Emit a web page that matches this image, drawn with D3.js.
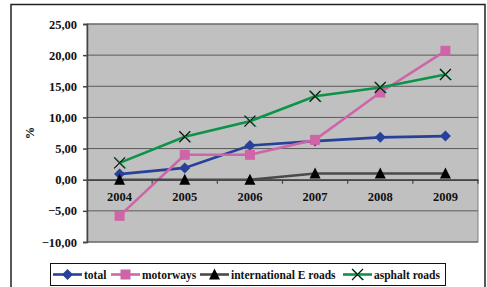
<!DOCTYPE html>
<html>
<head>
<meta charset="utf-8">
<script src="https://cdn.jsdelivr.net/npm/d3@7"></script>
<style>
  body { margin: 0; background: #fff; }
  text { font-family: "Liberation Serif", "Times New Roman", serif; font-weight: bold; }
</style>
</head>
<body>
<div id="chart"></div>
<script>
// data
var years = ["2004", "2005", "2006", "2007", "2008", "2009"];
var total = [0.9, 1.9, 5.5, 6.2, 6.8, 7.0];
var motorways = [-5.8, 4.0, 4.0, 6.4, 14.0, 20.7];
var intlRoads = [0.0, 0.0, 0.0, 1.0, 1.0, 1.0];
var asphalt = [2.7, 6.9, 9.4, 13.4, 14.8, 16.9];
var yTicks = [-10, -5, 0, 5, 10, 15, 20, 25];

var seriesList = [
  {name: "total", values: total, color: "#27409a", marker: "diamond"},
  {name: "motorways", values: motorways, color: "#cf64a8", marker: "square"},
  {name: "international E roads", values: intlRoads, color: "#4a4a4a", marker: "triangle"},
  {name: "asphalt roads", values: asphalt, color: "#0b9447", marker: "cross"}
];

var W = 487, H = 287;
var plot = {left: 87, top: 24, right: 478, bottom: 242};

var svg = d3.select("#chart").append("svg")
  .attr("width", W)
  .attr("height", H);

// outer frame
svg.append("rect")
  .attr("x", 11).attr("y", 4.5)
  .attr("width", 474).attr("height", 300)
  .attr("fill", "#fff")
  .attr("stroke", "#222")
  .attr("stroke-width", 1.5);

var x = d3.scaleBand()
  .domain(years)
  .range([plot.left, plot.right]);

var y = d3.scaleLinear()
  .domain([-10, 25])
  .range([plot.bottom, plot.top]);

// plot background
svg.append("rect")
  .attr("x", plot.left).attr("y", plot.top)
  .attr("width", plot.right - plot.left)
  .attr("height", plot.bottom - plot.top)
  .attr("fill", "#c0c0c0")
  .attr("stroke", "#808080")
  .attr("stroke-width", 1);

// gridlines
svg.append("g")
  .selectAll("line")
  .data(yTicks)
  .enter()
  .append("line")
  .attr("x1", plot.left).attr("x2", plot.right)
  .attr("y1", d => y(d)).attr("y2", d => y(d))
  .attr("stroke", "#5a5a5a")
  .attr("stroke-width", 1);

// y axis
var yAxis = svg.append("g")
  .attr("transform", "translate(" + plot.left + ",0)")
  .call(d3.axisLeft(y).tickValues(yTicks).tickSize(4).tickPadding(6)
    .tickFormat(d => d3.format(".2f")(d).replace(".", ",")));
yAxis.select(".domain").attr("stroke", "#444").attr("stroke-width", 1.5);
yAxis.selectAll(".tick line").attr("stroke", "#444").attr("stroke-width", 1.5);
yAxis.selectAll("text")
  .attr("font-size", 12.5)
  .attr("fill", "#111")
  .style("font-family", "Liberation Serif")
  .style("font-weight", "bold");

// x axis on the zero line
var xAxis = svg.append("g")
  .attr("transform", "translate(0," + y(0) + ")")
  .call(d3.axisBottom(x).tickSize(0).tickPadding(12));
xAxis.select(".domain").attr("stroke", "#444").attr("stroke-width", 1.5);
xAxis.selectAll("text")
  .attr("font-size", 12.5)
  .attr("fill", "#111")
  .style("font-family", "Liberation Serif")
  .style("font-weight", "bold");
xAxis.selectAll(".bound")
  .data(d3.range(1, years.length + 1))
  .enter()
  .append("line")
  .attr("x1", d => plot.left + d * x.bandwidth())
  .attr("x2", d => plot.left + d * x.bandwidth())
  .attr("y1", 0).attr("y2", 4)
  .attr("stroke", "#444")
  .attr("stroke-width", 1.2);

// y label
svg.append("text")
  .attr("transform", "translate(34," + 133 + ")rotate(-90)")
  .attr("text-anchor", "middle")
  .attr("font-size", 12.5)
  .attr("fill", "#111")
  .text("%");

function drawMarker(g, kind, color, cx, cy) {
  if (kind == "diamond") {
    g.append("path")
      .attr("d", "M" + cx + "," + (cy - 5.5) + "L" + (cx + 5.5) + "," + cy + "L" + cx + "," + (cy + 5.5) + "L" + (cx - 5.5) + "," + cy + "Z")
      .attr("fill", color);
  } else if (kind == "square") {
    g.append("rect")
      .attr("x", cx - 5).attr("y", cy - 5)
      .attr("width", 10).attr("height", 10)
      .attr("fill", color);
  } else if (kind == "triangle") {
    g.append("path")
      .attr("d", "M" + cx + "," + (cy - 6) + "L" + (cx + 5.5) + "," + (cy + 5) + "L" + (cx - 5.5) + "," + (cy + 5) + "Z")
      .attr("fill", "#000");
  } else if (kind == "cross") {
    var s = 5.5;
    g.append("path")
      .attr("d", "M" + (cx - s) + "," + (cy - s) + "L" + (cx + s) + "," + (cy + s) + "M" + (cx - s) + "," + (cy + s) + "L" + (cx + s) + "," + (cy - s))
      .attr("stroke", "#111")
      .attr("stroke-width", 1.2)
      .attr("fill", "none");
    g.append("path")
      .attr("d", "M" + (cx - s + 1) + "," + (cy - s) + "L" + (cx + s + 1) + "," + (cy + s))
      .attr("stroke", color)
      .attr("stroke-width", 0.8)
      .attr("fill", "none");
  }
}

var line = d3.line()
  .x((d, i) => x(years[i]) + x.bandwidth() / 2)
  .y(d => y(d));

seriesList.forEach(function(s) {
  var g = svg.append("g");
  g.append("path")
    .datum(s.values)
    .attr("d", line)
    .attr("fill", "none")
    .attr("stroke", s.color)
    .attr("stroke-width", 2.6);
  s.values.forEach(function(v, i) {
    drawMarker(g, s.marker, s.color, x(years[i]) + x.bandwidth() / 2, y(v));
  });
});

// legend
var legend = svg.append("g");
legend.append("rect")
  .attr("x", 50.5).attr("y", 263.5)
  .attr("width", 395).attr("height", 22)
  .attr("fill", "#fff")
  .attr("stroke", "#111")
  .attr("stroke-width", 1);

var legendX = [53, 111, 200, 343];
seriesList.forEach(function(s, i) {
  var lx = legendX[i], ly = 274.5;
  legend.append("line")
    .attr("x1", lx).attr("x2", lx + 29)
    .attr("y1", ly).attr("y2", ly)
    .attr("stroke", s.color)
    .attr("stroke-width", 2.6);
  drawMarker(legend, s.marker, s.color, lx + 14.5, ly);
  legend.append("text")
    .attr("x", lx + 31)
    .attr("y", ly + 4)
    .attr("font-size", 11.5)
    .attr("fill", "#111")
    .text(s.name);
});
</script>
</body>
</html>
